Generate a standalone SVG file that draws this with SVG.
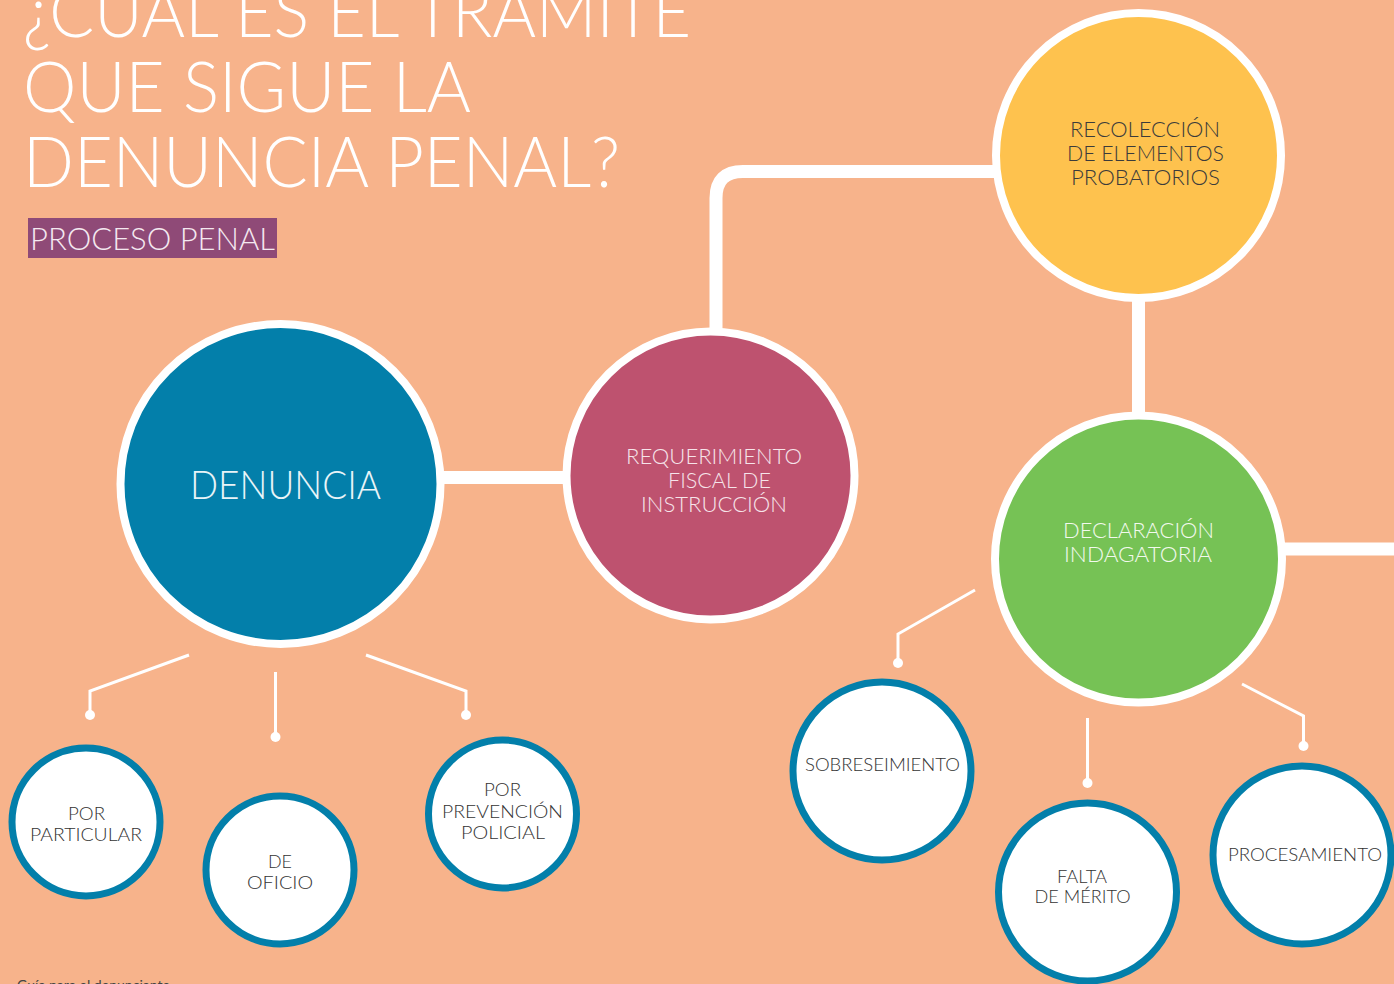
<svg xmlns="http://www.w3.org/2000/svg" width="1394" height="984" viewBox="0 0 1394 984">
<defs>
<style>
.t{font-family:Lato,"Open Sans","Liberation Sans",sans-serif;font-weight:300}
.big{stroke:#fff;stroke-width:8}
.small{fill:#fff;stroke:#037FAA;stroke-width:7}
.thick{fill:none;stroke:#fff;stroke-width:13}
.thin{fill:none;stroke:#fff;stroke-width:3}
.dot{fill:#fff}
.dk{fill:#333;font-size:18px}
</style>
</defs>
<rect width="1394" height="984" fill="#F7B38B"/>
<g id="title" class="t" fill="#fff" font-size="70">
<text x="23" y="37" textLength="668" lengthAdjust="spacingAndGlyphs">¿CUÁL ES EL TRÁMITE</text>
<text x="23" y="112" textLength="448" lengthAdjust="spacingAndGlyphs">QUE SIGUE LA</text>
<text x="23" y="187" textLength="597" lengthAdjust="spacingAndGlyphs">DENUNCIA PENAL?</text>
</g>
<g id="subtitle">
<rect x="28" y="218" width="249" height="40" fill="#8F4A77"/>
<text class="t" x="30" y="250" font-size="31" fill="#F4E8F0" textLength="245" lengthAdjust="spacingAndGlyphs">PROCESO PENAL</text>
</g>
<g id="connectors">
<line class="thick" x1="440" y1="477.5" x2="568" y2="477.5"/>
<path class="thick" d="M716,330 V198 Q716,171.5 743,171.5 H998"/>
<line class="thick" x1="1138.5" y1="298" x2="1138.5" y2="416"/>
<line class="thick" x1="1282" y1="549" x2="1394" y2="549"/>
<polyline class="thin" points="189,655 90,691 90,715"/>
<line class="thin" x1="275.5" y1="672" x2="275.5" y2="737"/>
<polyline class="thin" points="366,655 466,691 466,715"/>
<polyline class="thin" points="975,590 898,634 898,663"/>
<line class="thin" x1="1087.5" y1="718" x2="1087.5" y2="783"/>
<polyline class="thin" points="1242,684 1303.5,716 1303.5,746"/>
<circle class="dot" cx="90" cy="715" r="5"/>
<circle class="dot" cx="275.5" cy="737" r="5"/>
<circle class="dot" cx="466" cy="715" r="5"/>
<circle class="dot" cx="898" cy="663" r="5"/>
<circle class="dot" cx="1087.5" cy="783" r="5"/>
<circle class="dot" cx="1303.5" cy="746" r="5"/>
</g>
<g id="denuncia">
<circle class="big" cx="280.5" cy="484" r="160" fill="#037FAA"/>
<text class="t" x="190" y="499" font-size="40" fill="#E8F4F8" textLength="191" lengthAdjust="spacingAndGlyphs">DENUNCIA</text>
</g>
<g id="requerimiento" class="t" font-size="21" fill="#F6E4EA">
<circle class="big" cx="710.5" cy="475.5" r="144" fill="#BE526F"/>
<text x="626" y="464" textLength="176" lengthAdjust="spacingAndGlyphs">REQUERIMIENTO</text>
<text x="668" y="488" textLength="103" lengthAdjust="spacingAndGlyphs">FISCAL DE</text>
<text x="641" y="512" textLength="146" lengthAdjust="spacingAndGlyphs">INSTRUCCIÓN</text>
</g>
<g id="recoleccion" class="t" font-size="21" fill="#3B3B3B">
<circle class="big" cx="1138.5" cy="155.5" r="142.5" fill="#FEC24E"/>
<text x="1070" y="137" textLength="150" lengthAdjust="spacingAndGlyphs">RECOLECCIÓN</text>
<text x="1067" y="161" textLength="157" lengthAdjust="spacingAndGlyphs">DE ELEMENTOS</text>
<text x="1071" y="185" textLength="149" lengthAdjust="spacingAndGlyphs">PROBATORIOS</text>
</g>
<g id="declaracion" class="t" font-size="21" fill="#F2F9EE">
<circle class="big" cx="1138.5" cy="559" r="143.5" fill="#76C255"/>
<text x="1063" y="538" textLength="151" lengthAdjust="spacingAndGlyphs">DECLARACIÓN</text>
<text x="1064" y="562" textLength="148" lengthAdjust="spacingAndGlyphs">INDAGATORIA</text>
</g>
<g id="por-particular" class="t">
<circle class="small" cx="86" cy="822" r="74"/>
<text class="dk" x="68" y="820" textLength="37" lengthAdjust="spacingAndGlyphs">POR</text>
<text class="dk" x="30" y="841" textLength="112" lengthAdjust="spacingAndGlyphs">PARTICULAR</text>
</g>
<g id="de-oficio" class="t">
<circle class="small" cx="280" cy="870" r="74"/>
<text class="dk" x="268" y="868" textLength="24" lengthAdjust="spacingAndGlyphs">DE</text>
<text class="dk" x="247" y="889" textLength="66" lengthAdjust="spacingAndGlyphs">OFICIO</text>
</g>
<g id="por-prevencion" class="t">
<circle class="small" cx="502.5" cy="814" r="74"/>
<text class="dk" x="484" y="796" textLength="37" lengthAdjust="spacingAndGlyphs">POR</text>
<text class="dk" x="442" y="818" textLength="121" lengthAdjust="spacingAndGlyphs">PREVENCIÓN</text>
<text class="dk" x="461" y="839" textLength="84" lengthAdjust="spacingAndGlyphs">POLICIAL</text>
</g>
<g id="sobreseimiento" class="t">
<circle class="small" cx="882" cy="771" r="89"/>
<text class="dk" x="805" y="771" textLength="155" lengthAdjust="spacingAndGlyphs">SOBRESEIMIENTO</text>
</g>
<g id="falta-de-merito" class="t">
<circle class="small" cx="1087.5" cy="892" r="89"/>
<text class="dk" x="1057" y="883" textLength="50" lengthAdjust="spacingAndGlyphs">FALTA</text>
<text class="dk" x="1034.5" y="903" textLength="96" lengthAdjust="spacingAndGlyphs">DE MÉRITO</text>
</g>
<g id="procesamiento" class="t">
<circle class="small" cx="1302" cy="855" r="89"/>
<text class="dk" x="1228" y="861" textLength="154" lengthAdjust="spacingAndGlyphs">PROCESAMIENTO</text>
</g>
<g id="footer">
<text x="17" y="990" font-family="Lato,'Liberation Sans',sans-serif" font-size="14" fill="#444" textLength="153" lengthAdjust="spacingAndGlyphs">Guía para el denunciante</text>
</g>
</svg>
